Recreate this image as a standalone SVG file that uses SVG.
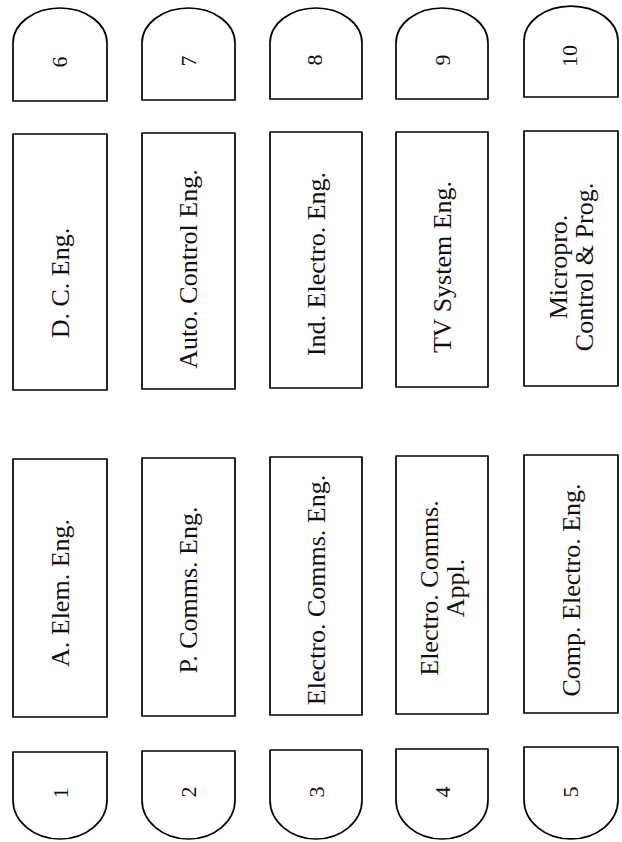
<svg xmlns="http://www.w3.org/2000/svg" width="622" height="842" viewBox="0 0 622 842">
<style>
.s{fill:#fff;stroke:#000;stroke-width:1.7;stroke-linejoin:round}
.t{font-family:"Liberation Serif","DejaVu Serif",serif;font-size:26px;fill:#111;text-anchor:middle;dominant-baseline:central}
.n{font-family:"Liberation Serif","DejaVu Serif",serif;font-size:22px;fill:#111;text-anchor:middle;dominant-baseline:central}
</style>
<rect width="622" height="842" fill="#fff"/>
<g id="connectors"/>
<g id="n6"><path class="s" d="M13,101 V43 A47,35 0 0 1 107,43 V101 Z"/><text class="n" transform="translate(59,62) rotate(-90)">6</text></g>
<g id="n7"><path class="s" d="M142,100 V43 A46.5,35 0 0 1 235,43 V100 Z"/><text class="n" transform="translate(188,61) rotate(-90)">7</text></g>
<g id="n8"><path class="s" d="M270,99 V43 A46,35 0 0 1 362,43 V99 Z"/><text class="n" transform="translate(314,60) rotate(-90)">8</text></g>
<g id="n9"><path class="s" d="M396,99 V43 A46,35 0 0 1 488,43 V99 Z"/><text class="n" transform="translate(442,60) rotate(-90)">9</text></g>
<g id="n10"><path class="s" d="M524,97 V41 A47,35 0 0 1 618,41 V97 Z"/><text class="n" transform="translate(569,56) rotate(-90)">10</text></g>
<g id="b6"><rect class="s" x="13" y="134" width="94" height="256"/><text class="t" transform="translate(60,283) rotate(-90)">D. C. Eng.</text></g>
<g id="b7"><rect class="s" x="142" y="133" width="93" height="256"/><text class="t" transform="translate(188,269) rotate(-90)">Auto. Control Eng.</text></g>
<g id="b8"><rect class="s" x="270" y="132" width="92" height="256"/><text class="t" transform="translate(316,264) rotate(-90)">Ind. Electro. Eng.</text></g>
<g id="b9"><rect class="s" x="396" y="132" width="92" height="255"/><text class="t" transform="translate(442,267) rotate(-90)">TV System Eng.</text></g>
<g id="b10"><rect class="s" x="524" y="131" width="94" height="255"/><text class="t" transform="translate(571,267) rotate(-90)"><tspan x="0" y="-13">Micropro.</tspan><tspan x="0" y="13">Control &amp; Prog.</tspan></text></g>
<g id="b1"><rect class="s" x="13" y="459" width="94" height="258"/><text class="t" transform="translate(60,593) rotate(-90)">A. Elem. Eng.</text></g>
<g id="b2"><rect class="s" x="142" y="458" width="93" height="258"/><text class="t" transform="translate(188,590) rotate(-90)">P. Comms. Eng.</text></g>
<g id="b3"><rect class="s" x="270" y="457" width="92" height="258"/><text class="t" transform="translate(316,590) rotate(-90)">Electro. Comms. Eng.</text></g>
<g id="b4"><rect class="s" x="396" y="456" width="92" height="258"/><text class="t" transform="translate(442,588) rotate(-90)"><tspan x="0" y="-13">Electro. Comms.</tspan><tspan x="0" y="13">Appl.</tspan></text></g>
<g id="b5"><rect class="s" x="524" y="455" width="94" height="258"/><text class="t" transform="translate(571,590) rotate(-90)">Comp. Electro. Eng.</text></g>
<g id="n1"><path class="s" d="M13,752 H107 V800 A47,39 0 0 1 13,800 Z"/><text class="n" transform="translate(60,793) rotate(-90)">1</text></g>
<g id="n2"><path class="s" d="M142,751 H235 V800 A46.5,39 0 0 1 142,800 Z"/><text class="n" transform="translate(188,792) rotate(-90)">2</text></g>
<g id="n3"><path class="s" d="M270,750 H362 V800 A46,39 0 0 1 270,800 Z"/><text class="n" transform="translate(316,792) rotate(-90)">3</text></g>
<g id="n4"><path class="s" d="M396,749 H488 V800 A46,39 0 0 1 396,800 Z"/><text class="n" transform="translate(442,792) rotate(-90)">4</text></g>
<g id="n5"><path class="s" d="M524,747 H618 V800 A47,39 0 0 1 524,800 Z"/><text class="n" transform="translate(570,792) rotate(-90)">5</text></g>
</svg>
